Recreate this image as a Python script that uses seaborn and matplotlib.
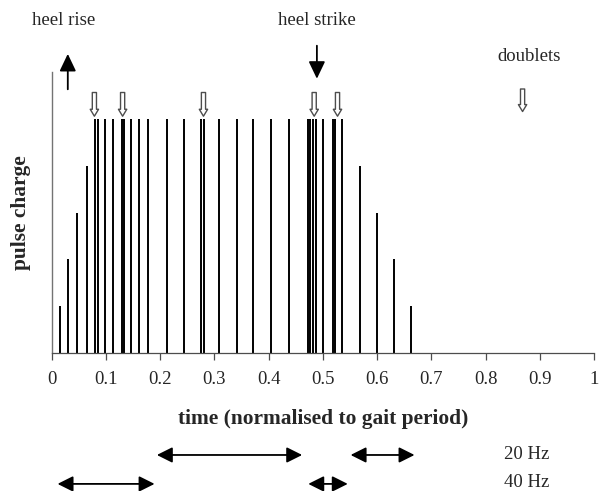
import numpy as np
import pandas as pd
import matplotlib
matplotlib.use("Agg")
import matplotlib.pyplot as plt
import seaborn as sns

# stimulation pulses over one gait cycle
pulse_time = [0.016, 0.031, 0.047, 0.066, 0.080, 0.086, 0.098, 0.113, 0.129, 0.134,
              0.146, 0.161, 0.177, 0.212, 0.244, 0.276, 0.281, 0.308, 0.342, 0.372,
              0.404, 0.438, 0.472, 0.477, 0.482, 0.487, 0.501, 0.518, 0.523, 0.535,
              0.568, 0.600, 0.632, 0.663]
pulse_charge = [0.2, 0.4, 0.6, 0.8, 1, 1, 1, 1, 1, 1,
                1, 1, 1, 1, 1, 1, 1, 1, 1, 1,
                1, 1, 1, 1, 1, 1, 1, 1, 1, 1,
                0.8, 0.6, 0.4, 0.2]

doublet_marks = [0.079, 0.131, 0.280, 0.484, 0.527]
doublet_key = 0.868
heel_rise = 0.030
heel_strike = 0.489
band_20hz = [(0.189, 0.467), (0.546, 0.674)]
band_40hz = [(0.006, 0.195), (0.468, 0.551)]
xticks = [0, 0.1, 0.2, 0.3, 0.4, 0.5, 0.6, 0.7, 0.8, 0.9, 1]
xtick_labels = ["0", "0.1", "0.2", "0.3", "0.4", "0.5", "0.6", "0.7", "0.8", "0.9", "1"]

sns.set_theme(style="white")
plt.rcParams["font.family"] = ["Liberation Serif", "DejaVu Serif"]

fig = plt.figure(figsize=(5.99, 4.91), dpi=100)
ax = fig.add_axes([0.086, 0.281, 0.906, 0.572])

df = pd.DataFrame({"time": pulse_time, "charge": pulse_charge})
ax.vlines(df["time"], 0, df["charge"], color="black", lw=1.4)

ax.set_xlim(0, 1)
ax.set_ylim(0, 1.2)
ax.set_xticks(xticks)
ax.set_xticklabels(xtick_labels, fontsize=13.5)
ax.set_yticks([])
ax.tick_params(axis="x", direction="out", length=5, width=0.9, color="0.3",
               bottom=True, pad=8)
sns.despine(ax=ax)
ax.spines["left"].set_color("0.45")
ax.spines["left"].set_linewidth(1.0)
ax.spines["bottom"].set_color("0.3")
ax.spines["bottom"].set_linewidth(0.9)

ax.set_xlabel("time (normalised to gait period)", fontsize=15.4, fontweight="bold",
              labelpad=15)
ax.set_ylabel("pulse charge", fontsize=15.4, fontweight="bold", labelpad=15)

# event arrows
solid = dict(arrowstyle="-|>,head_length=1.05,head_width=0.5", color="black",
             lw=1.3, mutation_scale=10)
ax.annotate("", xy=(heel_rise, 1.29), xytext=(heel_rise, 1.115),
            arrowprops=solid, annotation_clip=False)
ax.annotate("", xy=(heel_strike, 1.16), xytext=(heel_strike, 1.325),
            arrowprops=solid, annotation_clip=False)
ax.text(heel_rise - 0.007, 1.42, "heel rise", ha="center", va="center", fontsize=13.5)
ax.text(heel_strike, 1.42, "heel strike", ha="center", va="center", fontsize=13.5)

hollow = dict(arrowstyle="simple,head_length=0.5,head_width=0.6,tail_width=0.3",
              fc="white", ec="0.3", lw=1.0, mutation_scale=10)
for t in doublet_marks:
    ax.annotate("", xy=(t, 1.0), xytext=(t, 1.125), arrowprops=hollow,
                annotation_clip=False)
ax.annotate("", xy=(doublet_key, 1.02), xytext=(doublet_key, 1.14), arrowprops=hollow,
            annotation_clip=False)
ax.text(doublet_key + 0.012, 1.265, "doublets", ha="center", va="center", fontsize=13.5)

# frequency bands below the axis
trans = ax.get_xaxis_transform()
band = dict(arrowstyle="<|-|>,head_length=0.94,head_width=0.47", color="black",
            lw=1.3, mutation_scale=10)
for y, spans in [(-0.363, band_20hz), (-0.466, band_40hz)]:
    for a, b in spans:
        ax.annotate("", xy=(a, y), xytext=(b, y), xycoords=trans, textcoords=trans,
                    arrowprops=band, annotation_clip=False)
ax.text(0.833, -0.378, "20 Hz", transform=trans, ha="left", va="baseline", fontsize=13.5)
ax.text(0.833, -0.478, "40 Hz", transform=trans, ha="left", va="baseline", fontsize=13.5)

fig.savefig("out.png", dpi=100)
